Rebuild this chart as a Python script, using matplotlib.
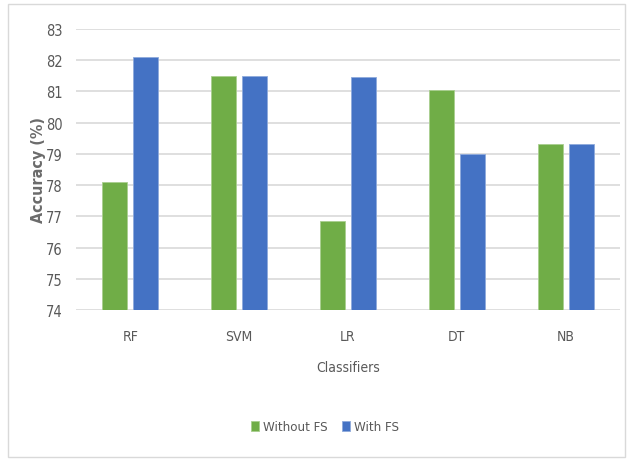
import matplotlib.pyplot as plt
from matplotlib.patches import Rectangle
import numpy as np

classifiers = ["RF", "SVM", "LR", "DT", "NB"]
without_fs = [78.1, 81.5, 76.86, 81.03, 79.3]
with_fs = [82.1, 81.5, 81.46, 78.98, 79.3]
y_ticks = list(range(74, 84))

text_color = "#595959"
green = "#70AD47"
blue = "#4472C4"

plt.rcParams["font.family"] = ["DejaVu Sans"]
plt.rcParams["font.stretch"] = "condensed"

fig = plt.figure(figsize=(6.27, 4.6), dpi=100)
ax = fig.add_axes([0.121, 0.324, 0.868, 0.611])

x = np.arange(len(classifiers))
w = 0.23
ax.bar(x - 0.142, [v - 74 for v in without_fs], w, bottom=74, color=green,
       edgecolor="#a9cf8f", linewidth=0.6, label="Without FS", zorder=3)
ax.bar(x + 0.142, [v - 74 for v in with_fs], w, bottom=74, color=blue,
       edgecolor="#8eaadc", linewidth=0.6, label="With FS", zorder=3)

ax.set_xlim(-0.5, len(classifiers) - 0.5)
ax.set_ylim(74, 83)
ax.set_yticks(y_ticks)
ax.set_xticks(x)
ax.set_xticklabels(classifiers)
ax.tick_params(axis="both", length=0, colors=text_color, labelsize=10.5)
ax.tick_params(axis="x", pad=14, labelsize=10)
ax.tick_params(axis="y", pad=9.5)
ax.yaxis.grid(True, color="#d9d9d9", linewidth=1.2, zorder=0)
for s in ax.spines.values():
    s.set_visible(False)

ax.set_xlabel("Classifiers", color=text_color, fontsize=10, labelpad=12)
ax.set_ylabel("Accuracy (%)", color="#6b6b6b", fontsize=11.5,
              fontweight="semibold", labelpad=0)

leg = fig.legend(loc="center", bbox_to_anchor=(0.519, 0.07), ncol=2,
                 frameon=False, fontsize=9.5, handlelength=0.6,
                 handleheight=0.8, handletextpad=0.3, columnspacing=1.1)
for t in leg.get_texts():
    t.set_color(text_color)

fig.patches.append(Rectangle((0.012, 0.004), 0.985, 0.985, transform=fig.transFigure,
                             fill=False, edgecolor="#d9d9d9", linewidth=1))

fig.savefig("out.png", dpi=100)
